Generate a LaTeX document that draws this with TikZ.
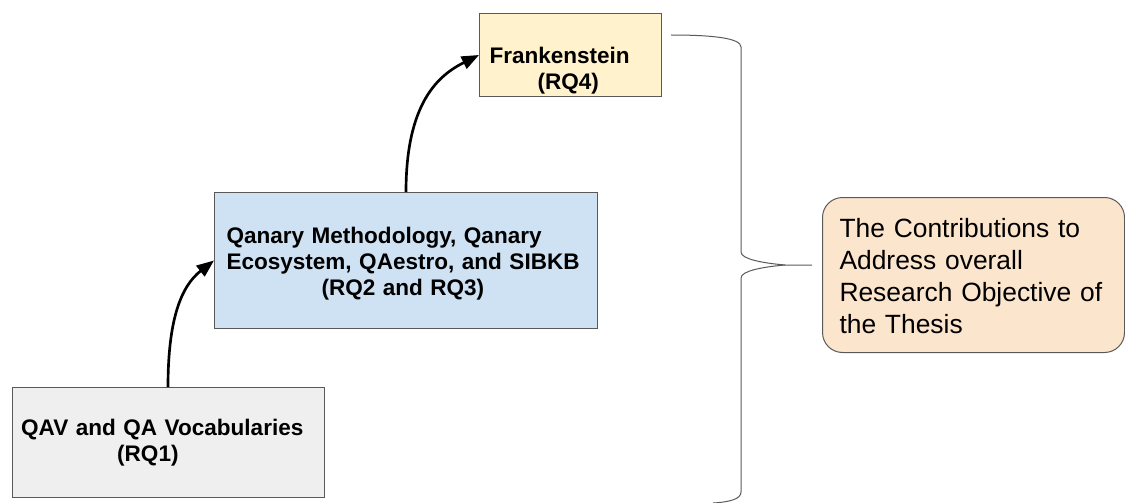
\documentclass[tikz,border=0pt]{standalone}
\usepackage{fontspec}
\setmainfont{Liberation Sans}
\usetikzlibrary{arrows.meta}

\definecolor{boxline}{RGB}{89,89,89}
\definecolor{vocabfill}{RGB}{239,239,239}
\definecolor{qanaryfill}{RGB}{207,226,243}
\definecolor{frankfill}{RGB}{255,242,204}
\definecolor{goalfill}{RGB}{252,229,205}

\tikzset{every picture/.style={line width=0.75pt}}
\tikzset{
  rqbox/.style={draw=boxline, anchor=north west, align=left, inner ysep=0pt,
    font=\fontsize{16.9}{19.5}\selectfont\bfseries},
  goalbox/.style={draw=boxline, anchor=north west, align=left, inner ysep=0pt,
    rounded corners=15pt, font=\fontsize{19.8}{24}\selectfont},
  flow/.style={line width=2pt, -{Triangle[length=13pt,width=10pt]}},
}

\begin{document}
\begin{tikzpicture}[x=0.75pt,y=0.75pt,yscale=-1,xscale=1]
\useasboundingbox (0,0) rectangle (1125,503);

%Shape: Rectangle [vocabularies]
\node [rqbox, fill=vocabfill, inner xsep=6.9pt, text width=220.2pt, text height=36pt, text depth=46.5pt] (qav) at (11.5,387) {QAV and QA Vocabularies\\\hspace*{72pt}(RQ1)};
%Shape: Rectangle [qanary]
\node [rqbox, fill=qanaryfill, inner xsep=9pt, text width=269.25pt, text height=38.25pt, text depth=63.75pt] (qanary) at (214,192) {Qanary Methodology, Qanary\\Ecosystem, QAestro, and SIBKB\\\hspace*{71.25pt}(RQ2 and RQ3)};
%Shape: Rectangle [frankenstein]
\node [rqbox, fill=frankfill, inner xsep=7.5pt, text width=121.5pt, text height=37.5pt, text depth=24.75pt] (frank) at (479,13) {Frankenstein\\\hspace*{36pt}(RQ4)};
%Rounded Rect [objective]
\node [goalbox, fill=goalfill, inner xsep=12.75pt, text width=201pt, text height=30pt, text depth=86.25pt] (goal) at (822,197) {The Contributions to\\Address overall\\Research Objective of\\the Thesis};

%Curve Lines
\draw [flow] (qav.north) .. controls +(0,-70) and +(-32,25) .. (qanary.west);
\draw [flow] (qanary.north) .. controls +(0,-90) and +(-40,20) .. (frank.west);

%Shape: Brace
\draw [boxline] (671,35) .. controls (712,35) and (741,38) .. (741,47) -- (741,252) .. controls (741,259) and (762,263) .. (785,265) -- (812,265) ;
\draw [boxline] (785,265) .. controls (762,267) and (741,271) .. (741,278) -- (741,492) .. controls (741,499) and (730,502) .. (713,503) ;

\end{tikzpicture}
\end{document}
